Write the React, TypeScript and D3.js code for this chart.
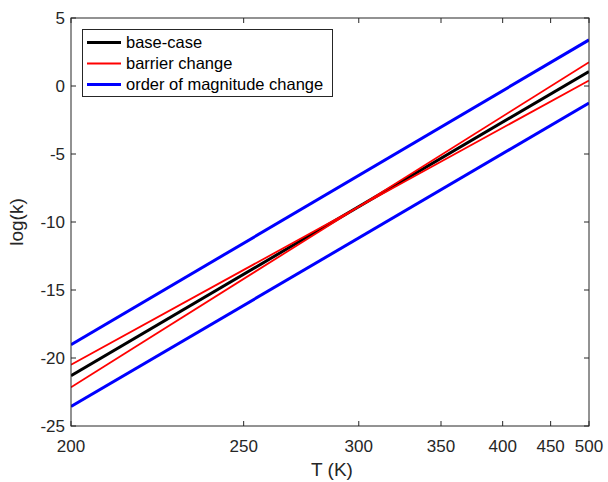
import React, { useEffect, useRef } from "react";
import * as d3 from "d3";

// temperatures (K) at the two ends of each line
const temps = [200, 500];
// log(k) at 200 K and 500 K
const baseCase = [-21.3, 1.07];
const barrierLow = [-20.49, 0.41];
const barrierHigh = [-22.15, 1.75];
const magUp = [-19.03, 3.39];
const magDown = [-23.57, -1.25];

const xTicks = [200, 250, 300, 350, 400, 450, 500];
const yTicks = [-25, -20, -15, -10, -5, 0, 5];

const legendItems = [
  { label: "base-case", color: "#000000", width: 3 },
  { label: "barrier change", color: "#ff0000", width: 1.8 },
  { label: "order of magnitude change", color: "#0000ff", width: 3 },
];

export default function App() {
  const ref = useRef<SVGSVGElement>(null);

  useEffect(() => {
    const svg = d3.select(ref.current);
    svg.selectAll("*").remove();

    const left = 71, right = 589, top = 18, bottom = 426;
    const axisColor = "#262626";
    const font = "'Liberation Sans', Arial, Helvetica, sans-serif";

    // 1/T axis, as in an Arrhenius plot
    const inv = d3.scaleLinear().domain([1 / 200, 1 / 500]).range([left, right]);
    const x = (t: number) => inv(1 / t);
    const y = d3.scaleLinear().domain([-25, 5]).range([bottom, top]);

    svg.append("rect").attr("width", 608).attr("height", 482).attr("fill", "#fff");

    const line = d3
      .line<number>()
      .x((d, i) => x(temps[i]))
      .y((d) => y(d));

    const series = [
      { v: baseCase, color: "#000000", w: 3 },
      { v: barrierLow, color: "#ff0000", w: 1.8 },
      { v: barrierHigh, color: "#ff0000", w: 1.8 },
      { v: magUp, color: "#0000ff", w: 3 },
      { v: magDown, color: "#0000ff", w: 3 },
    ];

    const clip = svg.append("clipPath").attr("id", "plotclip");
    clip.append("rect").attr("x", left).attr("y", top).attr("width", right - left).attr("height", bottom - top);

    const g = svg.append("g").attr("clip-path", "url(#plotclip)");
    series.forEach((s) => {
      g.append("path")
        .datum(s.v)
        .attr("d", line)
        .attr("fill", "none")
        .attr("stroke", s.color)
        .attr("stroke-width", s.w);
    });

    // axes box
    const ax = svg.append("g").attr("stroke", axisColor).attr("stroke-width", 1).attr("fill", "none");
    ax.append("rect").attr("x", left).attr("y", top).attr("width", right - left).attr("height", bottom - top);

    const tl = 5;
    xTicks.forEach((t) => {
      const px = x(t);
      ax.append("line").attr("x1", px).attr("x2", px).attr("y1", bottom).attr("y2", bottom - tl);
      ax.append("line").attr("x1", px).attr("x2", px).attr("y1", top).attr("y2", top + tl);
    });
    yTicks.forEach((v) => {
      const py = y(v);
      ax.append("line").attr("x1", left).attr("x2", left + tl).attr("y1", py).attr("y2", py);
      ax.append("line").attr("x1", right).attr("x2", right - tl).attr("y1", py).attr("y2", py);
    });

    const txt = svg.append("g").attr("fill", axisColor).attr("font-family", font).attr("font-size", 17);
    xTicks.forEach((t) => {
      txt.append("text").attr("x", x(t)).attr("y", bottom + 26).attr("text-anchor", "middle").text(t);
    });
    yTicks.forEach((v) => {
      txt.append("text").attr("x", left - 6).attr("y", y(v)).attr("dy", "0.35em").attr("text-anchor", "end").text(v);
    });

    txt.append("text").attr("x", 332).attr("y", 476).attr("font-size", 19).attr("text-anchor", "middle").text("T (K)");
    txt.append("text")
      .attr("transform", `translate(23,222) rotate(-90)`)
      .attr("font-size", 19)
      .attr("text-anchor", "middle")
      .text("log(k)");

    // legend
    const lg = svg.append("g");
    lg.append("rect")
      .attr("x", 82.5).attr("y", 29.5).attr("width", 250).attr("height", 67)
      .attr("fill", "#fff").attr("stroke", axisColor).attr("stroke-width", 1);
    legendItems.forEach((item, i) => {
      const ly = 42.5 + i * 21;
      lg.append("line")
        .attr("x1", 87).attr("x2", 121).attr("y1", ly).attr("y2", ly)
        .attr("stroke", item.color).attr("stroke-width", item.width);
      lg.append("text")
        .attr("x", 126).attr("y", ly).attr("dy", "0.35em")
        .attr("font-family", font).attr("font-size", 16.5).attr("fill", "#000")
        .text(item.label);
    });
  }, []);

  return (
    <div style={{ position: "absolute", left: 0, top: 0 }}>
      <svg ref={ref} width={608} height={482} style={{ display: "block" }} />
    </div>
  );
}
